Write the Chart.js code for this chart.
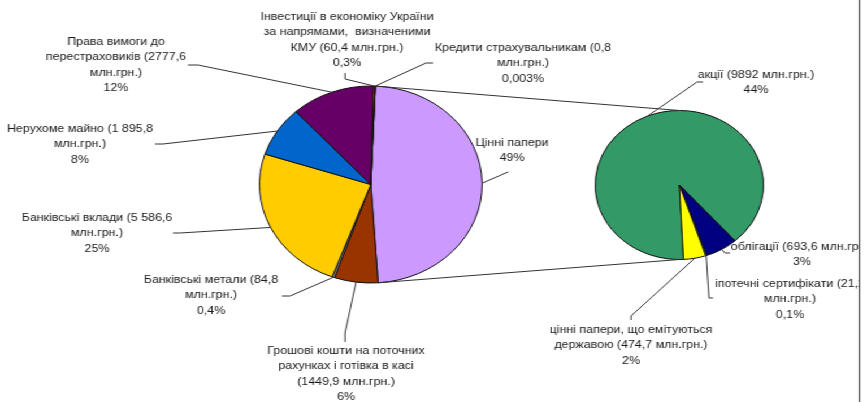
<!DOCTYPE html>
<html>
<head>
<meta charset="utf-8">
<script src="https://cdn.jsdelivr.net/npm/chart.js@4.4.1/dist/chart.umd.min.js"></script>
<style>
  html, body { margin: 0; padding: 0; background: #fff; overflow: hidden; }
  /* the original picture is stretched sideways, so the whole stage is too */
  #stage { position: relative; width: 767px; height: 402px; transform: scaleX(1.1304); transform-origin: 0 0; }
  #stage canvas { position: absolute; left: 0; top: 0; }
</style>
</head>
<body>
<div id="stage">
  <canvas id="mainPie" width="767" height="402"></canvas>
  <canvas id="subPie" width="767" height="402"></canvas>
</div>
<script>
// main pie: structure of assets, млн.грн.
const mainLabels = ['Цінні папери', 'Грошові кошти на поточних рахунках і готівка в касі', 'Банківські метали',
    'Банківські вклади', 'Нерухоме майно', 'Права вимоги до перестраховиків',
    'Інвестиції в економіку України за напрямами, визначеними КМУ', 'Кредити страхувальникам'];
const mainValues = [11081.5, 1449.9, 84.8, 5586.6, 1895.8, 2777.6, 60.4, 0.8];
const mainPercents = ['49%', '6%', '0,4%', '25%', '8%', '12%', '0,3%', '0,003%'];
const mainText = [
    ['Цінні папери'],
    ['Грошові кошти на поточних', 'рахунках і готівка в касі', '(1449,9 млн.грн.)'],
    ['Банківські метали (84,8', 'млн.грн.)'],
    ['Банківські вклади (5 586,6', 'млн.грн.)'],
    ['Нерухоме майно (1 895,8', 'млн.грн.)'],
    ['Права вимоги до', 'перестраховиків (2777,6', 'млн.грн.)'],
    ['Інвестиції в економіку України', 'за напрямами,  визначеними', 'КМУ (60,4 млн.грн.)'],
    ['Кредити страхувальникам (0,8', 'млн.грн.)']
];

// second pie: breakdown of "Цінні папери"
const subLabels = ['акції', 'облігації', 'іпотечні сертифікати', 'цінні папери, що емітуються державою'];
const subValues = [9892, 693.6, 21.2, 474.7];
const subPercents = ['44%', '3%', '0,1%', '2%'];
const subText = [
    ['акції (9892 млн.грн.)'],
    ['облігації (693,6 млн.грн.)'],
    ['іпотечні сертифікати (21,2', 'млн.грн.)'],
    ['цінні папери, що емітуються', 'державою (474,7 млн.грн.)']
];

const mainColors = ['#CC99FF', '#993300', '#808080', '#FFCC00', '#0066CC', '#660066', '#FF6600', '#FF0000'];
const subColors = ['#339966', '#000080', '#CCFFFF', '#FFFF00'];

const SX = 867 / 767;   // horizontal stretch of the stage

// label places in picture pixels: x centre, y of first line, elbows of the leader line
const mainPos = [
    { x: 512, y: 143, leader: [[508, 172]] },
    { x: 346, y: 351, leader: [[345, 342], [345, 333]] },
    { x: 211, y: 280, leader: [[282, 296], [290, 296]] },
    { x: 97, y: 218, leader: [[173, 233], [180, 233]] },
    { x: 80, y: 129, leader: [[155, 144], [163, 144]] },
    { x: 116, y: 42, leader: [[188, 65], [198, 65]] },
    { x: 347, y: 17, leader: [[345, 73], [345, 79]] },
    { x: 523, y: 48, leader: [[433, 63], [426, 63]] }
];
const subPos = [
    { x: 756, y: 75, leader: [[703, 82], [697, 82]] },
    { x: 802, y: 247, leader: [[730, 253], [725, 253]] },
    { x: 790, y: 284, leader: [[713, 298], [709, 298]] },
    { x: 631, y: 330, leader: [[631, 320], [631, 316]] }
];

function edgePoint(arc, angle) {
    return [arc.x + arc.outerRadius * Math.cos(angle), arc.y + arc.outerRadius * Math.sin(angle)];
}

function drawLabels(ctx, arcs, texts, percents, pos) {
    arcs.forEach((arc, i) => {
        const p = pos[i];
        const mid = (arc.startAngle + arc.endAngle) / 2;
        const end = edgePoint(arc, mid);
        ctx.beginPath();
        p.leader.forEach((pt, k) => {
            if (k === 0) ctx.moveTo(pt[0] / SX, pt[1]);
            else ctx.lineTo(pt[0] / SX, pt[1]);
        });
        ctx.lineTo(end[0], end[1]);
        ctx.stroke();

        const lines = texts[i].concat(percents[i]);
        lines.forEach((t, k) => {
            ctx.fillText(t, p.x / SX, p.y + k * 15.3);
        });
    });
}

const labelsPlugin = {
    id: 'pieLabels',
    afterDraw(chart) {
        const ctx = chart.ctx;
        const mainArcs = mainChart.getDatasetMeta(0).data;
        const subArcs = chart.getDatasetMeta(0).data;
        ctx.save();
        ctx.beginPath();
        ctx.rect(0, 0, 859 / SX, 402);
        ctx.clip();
        ctx.strokeStyle = '#333';
        ctx.lineWidth = 1;
        ctx.fillStyle = '#1a1a1a';
        ctx.font = '11px "Liberation Sans", Arial, sans-serif';
        ctx.textAlign = 'center';
        ctx.textBaseline = 'middle';

        // connector lines between the two pies
        const a0 = mainArcs[0], s0 = subArcs[0];
        const p1 = edgePoint(a0, a0.startAngle);
        const p2 = edgePoint(a0, a0.endAngle);
        ctx.beginPath();
        ctx.moveTo(p1[0], p1[1]);
        ctx.lineTo(s0.x, s0.y - s0.outerRadius);
        ctx.moveTo(p2[0], p2[1]);
        ctx.lineTo(s0.x, s0.y + s0.outerRadius);
        ctx.stroke();

        drawLabels(ctx, mainArcs, mainText, mainPercents, mainPos);
        drawLabels(ctx, subArcs, subText, subPercents, subPos);
        ctx.restore();

        // frame edge on the right
        ctx.save();
        ctx.strokeStyle = '#222';
        ctx.lineWidth = 1;
        ctx.beginPath();
        ctx.moveTo(859.5 / SX, 0);
        ctx.lineTo(859.5 / SX, 402);
        ctx.stroke();
        ctx.restore();
    }
};

const baseOptions = {
    responsive: false,
    animation: false,
    events: [],
    plugins: { legend: { display: false }, tooltip: { enabled: false } }
};

const mainChart = new Chart(document.getElementById('mainPie'), {
    type: 'pie',
    data: {
        labels: mainLabels,
        datasets: [{
            data: mainValues,
            backgroundColor: mainColors,
            borderColor: '#111',
            borderWidth: 1,
            radius: 98.5
        }]
    },
    options: Object.assign({}, baseOptions, {
        rotation: 2.3,
        layout: { padding: { left: 208, right: 319, top: 64.5, bottom: 97.5 } }
    })
});

const subChart = new Chart(document.getElementById('subPie'), {
    type: 'pie',
    data: {
        labels: subLabels,
        datasets: [{
            data: subValues,
            backgroundColor: subColors,
            borderColor: '#111',
            borderWidth: 1,
            radius: 74.5
        }]
    },
    options: Object.assign({}, baseOptions, {
        rotation: 177.2,
        layout: { padding: { left: 511, right: 76, top: 95, bottom: 127 } }
    }),
    plugins: [labelsPlugin]
});
</script>
</body>
</html>
